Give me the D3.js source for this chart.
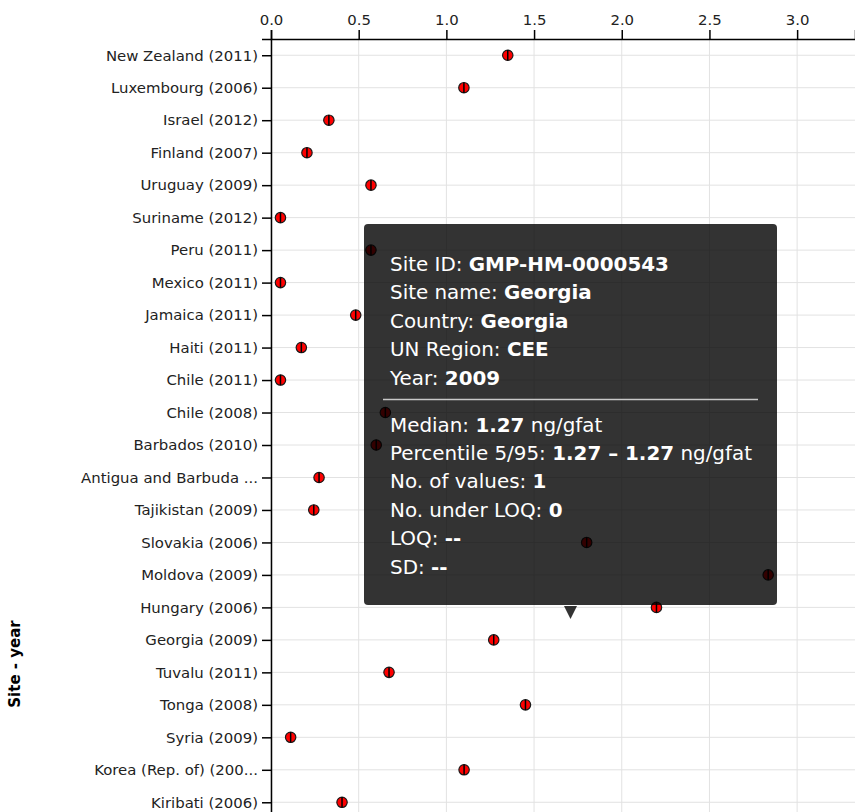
<!DOCTYPE html>
<html>
<head>
<meta charset="utf-8">
<script src="https://cdn.jsdelivr.net/npm/d3@7"></script>
<style>
body { margin: 0; background: #fff; }
svg { display: block; font-family: "DejaVu Sans", sans-serif; }
.grid line { stroke: #e2e2e2; stroke-width: 1; }
.axis path, .axis line { stroke: #000; stroke-width: 1.5; }
.axis text { fill: #222; font-size: 14.9px; font-family: "DejaVu Sans", sans-serif; }
.axisTitle { font-size: 15px; font-weight: bold; fill: #000; }
.tip text { fill: #fff; font-size: 19.9px; }
.tip .val { font-weight: bold; }
</style>
</head>
<body>
<div id="chart"></div>
<script>
// site labels as shown on the y axis (top to bottom)
var sites = ["New Zealand (2011)", "Luxembourg (2006)", "Israel (2012)", "Finland (2007)",
    "Uruguay (2009)", "Suriname (2012)", "Peru (2011)", "Mexico (2011)", "Jamaica (2011)",
    "Haiti (2011)", "Chile (2011)", "Chile (2008)", "Barbados (2010)", "Antigua and Barbuda ...",
    "Tajikistan (2009)", "Slovakia (2006)", "Moldova (2009)", "Hungary (2006)", "Georgia (2009)",
    "Tuvalu (2011)", "Tonga (2008)", "Syria (2009)", "Korea (Rep. of) (200...", "Kiribati (2006)"];

// median concentration, ng/gfat
var medians = [1.35, 1.10, 0.33, 0.205, 0.57, 0.054, 0.57, 0.054, 0.483, 0.173, 0.054, 0.652,
    0.60, 0.274, 0.244, 1.80, 2.835, 2.198, 1.27, 0.673, 1.451, 0.112, 1.101, 0.405];

var xTicks = [0, 0.5, 1, 1.5, 2, 2.5, 3];
var xMax = 3.33;

// tooltip content for the hovered site
var tipSite = "Georgia (2009)";
var tipInfo = [["Site ID: ", "GMP-HM-0000543"], ["Site name: ", "Georgia"],
    ["Country: ", "Georgia"], ["UN Region: ", "CEE"], ["Year: ", "2009"]];
var tipCounts = [["No. of values: ", "1"], ["No. under LOQ: ", "0"], ["LOQ: ", "--"], ["SD: ", "--"]];

var width = 855, height = 812;
var margin = {top: 39, left: 271};
var rowStep = 32.48;

var svg = d3.select("#chart").append("svg")
    .attr("width", width)
    .attr("height", height);

var x = d3.scaleLinear().domain([0, xMax]).range([margin.left, width]);
var y = d3.scalePoint().domain(sites)
    .range([margin.top, margin.top + sites.length * rowStep])
    .padding(0.5);

//grid lines
var grid = svg.append("g").attr("class", "grid");
grid.selectAll(".gx")
    .data(xTicks)
    .enter()
    .append("line")
    .attr("x1", d => x(d)).attr("x2", d => x(d))
    .attr("y1", margin.top).attr("y2", y.range()[1]);
grid.selectAll(".gy")
    .data(sites)
    .enter()
    .append("line")
    .attr("x1", margin.left).attr("x2", width)
    .attr("y1", d => y(d)).attr("y2", d => y(d));

//axes
svg.append("g")
    .attr("class", "axis")
    .attr("transform", "translate(0," + margin.top + ")")
    .call(d3.axisTop(x).tickValues(xTicks).tickFormat(d3.format(".1f")).tickSize(9).tickPadding(5));

svg.append("g")
    .attr("class", "axis")
    .attr("transform", "translate(" + margin.left + ",0)")
    .call(d3.axisLeft(y).tickSize(9).tickPadding(4));

svg.append("text")
    .attr("class", "axisTitle")
    .attr("transform", "translate(20,664) rotate(-90)")
    .attr("text-anchor", "middle")
    .text("Site - year");

//markers: circle with the median line through it
var r = 5.2;
var marks = svg.selectAll(".mark")
    .data(sites)
    .enter()
    .append("g")
    .attr("class", "mark");
marks.append("circle")
    .attr("cx", (d, i) => x(medians[i]))
    .attr("cy", d => y(d))
    .attr("r", r)
    .attr("fill", "#f00")
    .attr("stroke", "#1a1a1a")
    .attr("stroke-width", 1.2);
marks.append("line")
    .attr("x1", (d, i) => x(medians[i])).attr("x2", (d, i) => x(medians[i]))
    .attr("y1", d => y(d) - r).attr("y2", d => y(d) + r)
    .attr("stroke", "#000")
    .attr("stroke-width", 1.5);

//tooltip
var tipMedian = d3.format(".2f")(medians[sites.indexOf(tipSite)]);
var tipStats = [["Median: ", tipMedian, " ng/gfat"],
    ["Percentile 5/95: ", tipMedian + " \u2013 " + tipMedian, " ng/gfat"]].concat(tipCounts);

var tip = {x: 364, y: 224, w: 413, h: 381, pad: 26, line: 28.4};
var tipG = svg.append("g").attr("class", "tip");
tipG.append("rect")
    .attr("x", tip.x).attr("y", tip.y)
    .attr("width", tip.w).attr("height", tip.h)
    .attr("rx", 4)
    .attr("fill", "rgba(0,0,0,0.8)");
var cx = tip.x + tip.w / 2, by = tip.y + tip.h + 1;
tipG.append("path")
    .attr("d", "M" + (cx - 6.5) + "," + by + "L" + (cx + 6.5) + "," + by + "L" + cx + "," + (by + 13) + "Z")
    .attr("fill", "rgba(0,0,0,0.8)");

function tipLines(rows, y0) {
    var t = tipG.selectAll(null)
        .data(rows)
        .enter()
        .append("text")
        .attr("x", tip.x + tip.pad)
        .attr("y", (d, i) => y0 + i * tip.line);
    t.append("tspan").text(d => d[0]);
    t.append("tspan").attr("class", "val").text(d => d[1]);
    t.append("tspan").text(d => d[2] || "");
}
tipLines(tipInfo, tip.y + 47);
tipG.append("line")
    .attr("x1", tip.x + 19).attr("x2", tip.x + tip.w - 19)
    .attr("y1", 399.5).attr("y2", 399.5)
    .attr("stroke", "#c8c8c8")
    .attr("stroke-width", 1.5);
tipLines(tipStats, tip.y + 207.5);
</script>
</body>
</html>
